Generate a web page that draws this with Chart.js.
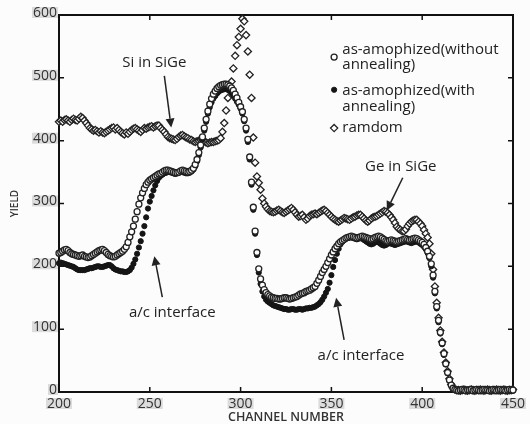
<!DOCTYPE html>
<html lang="en">
<head>
<meta charset="UTF-8">
<title>Yield vs channel number</title>
<script src="https://cdn.jsdelivr.net/npm/chart.js@4.4.1/dist/chart.umd.min.js"></script>
<style>
  html, body { margin: 0; padding: 0; background: #fcfcfc; }
</style>
</head>
<body>
<canvas id="chart" width="530" height="424"></canvas>
<script>
// one value per channel, starting at channel 200
const firstChannel = 200;
const seriesNames = ['as-amophized(without annealing)', 'as-amophized(with annealing)', 'ramdom'];

const withoutAnnealing = [
  221, 222, 224, 226, 227, 225, 222, 220, 219, 218,
  217, 216, 217, 218, 216, 215, 214, 215, 217, 219,
  221, 223, 225, 226, 227, 225, 222, 219, 217, 216,
  215, 216, 218, 220, 222, 224, 227, 231, 238, 247,
  255, 264, 275, 287, 299, 309, 317, 324, 330, 334,
  337, 339, 341, 343, 345, 347, 348, 350, 352, 353,
  353, 352, 351, 350, 349, 349, 350, 352, 353, 352,
  351, 350, 351, 353, 356, 362, 370, 381, 393, 406,
  420, 434, 447, 458, 467, 474, 479, 483, 486, 488,
  489, 490, 490, 489, 487, 484, 480, 474, 468, 461,
  454, 446, 434, 420, 402, 374, 334, 294, 256, 222,
  196, 180, 170, 163, 158, 155, 153, 151, 150, 149,
  149, 148, 148, 149, 150, 150, 149, 148, 149, 150,
  151, 152, 154, 156, 157, 158, 160, 161, 162, 164,
  166, 168, 173, 178, 184, 190, 195, 200, 206, 212,
  218, 223, 228, 232, 236, 239, 241, 243, 245, 246,
  247, 248, 247, 246, 245, 246, 247, 248, 247, 246,
  245, 244, 243, 244, 246, 247, 248, 247, 245, 243,
  241, 240, 241, 242, 241, 240, 239, 240, 241, 242,
  243, 244, 243, 242, 243, 244, 245, 244, 242, 240,
  238, 235, 230, 224, 216, 204, 186, 160, 136, 114,
  95, 78, 61, 45, 31, 19, 11, 6, 4, 3,
  2, 3, 4, 3, 2, 3, 3, 4, 2, 3,
  4, 3, 2, 3, 4, 3, 3, 2, 3, 4,
  3, 2, 3, 4, 3, 3, 2, 3, 4, 3,
  3
];

const withAnnealing = [
  205, 206, 205, 204, 203, 202, 201, 200, 199, 197,
  195, 194, 194, 194, 194, 195, 196, 197, 197, 198,
  199, 200, 200, 199, 199, 200, 201, 202, 202, 200,
  197, 195, 194, 193, 192, 192, 191, 191, 192, 194,
  198, 204, 211, 220, 230, 240, 252, 264, 278, 292,
  303, 312, 321, 329, 336, 341, 344, 346, 348, 349,
  350, 350, 349, 348, 347, 348, 349, 350, 350, 349,
  348, 348, 349, 351, 354, 359, 367, 377, 389, 402,
  416, 430, 443, 453, 461, 467, 471, 475, 478, 480,
  481, 482, 482, 481, 479, 476, 472, 467, 462, 457,
  451, 443, 431, 416, 398, 370, 330, 290, 252, 218,
  190, 172, 160, 152, 147, 144, 142, 140, 138, 137,
  136, 135, 134, 133, 132, 132, 131, 131, 132, 132,
  131, 131, 132, 132, 131, 132, 133, 133, 134, 134,
  135, 136, 138, 140, 143, 147, 152, 158, 164, 174,
  186, 199, 210, 220, 228, 235, 239, 242, 244, 245,
  246, 246, 245, 244, 243, 244, 245, 244, 242, 240,
  238, 236, 235, 236, 238, 239, 238, 236, 234, 233,
  234, 236, 237, 236, 235, 234, 235, 236, 237, 238,
  239, 240, 239, 238, 237, 238, 239, 240, 238, 236,
  234, 231, 227, 221, 213, 200, 182, 157, 133, 111,
  93, 76, 59, 44, 30, 18, 10, 6, 4, 3,
  3, 4, 3, 2, 3, 4, 3, 3, 2, 3,
  3, 2, 3, 4, 3, 2, 3, 3, 4, 3,
  2, 3, 3, 4, 3, 2, 3, 4, 3, 3,
  2
];

const randomYield = [
  430, 432, 430, 433, 434, 432, 430, 433, 435, 433,
  432, 435, 438, 436, 432, 428, 424, 420, 418, 416,
  417, 415, 413, 415, 413, 412, 414, 416, 418, 420,
  421, 418, 420, 417, 414, 412, 410, 413, 411, 414,
  417, 419, 420, 418, 416, 414, 417, 420, 419, 421,
  422, 423, 421, 423, 424, 424, 420, 417, 414, 410,
  406, 404, 403, 402, 401, 403, 406, 408, 409, 407,
  405, 404, 402, 401, 399, 398, 399, 400, 401, 401,
  399, 397, 396, 397, 398, 398, 399, 400, 401, 404,
  414, 428, 448, 468, 482, 494, 515, 535, 552, 565,
  578, 594, 590, 568, 542, 505, 468, 405, 365, 343,
  333, 322, 308, 300, 295, 291, 288, 287, 286, 287,
  289, 290, 288, 286, 285, 287, 289, 291, 293, 290,
  286, 282, 279, 280, 282, 278, 274, 276, 280, 282,
  283, 284, 283, 285, 287, 289, 290, 288, 285, 282,
  279, 276, 274, 272, 271, 273, 275, 277, 276, 275,
  274, 276, 278, 279, 281, 282, 282, 279, 276, 273,
  271, 273, 276, 278, 279, 280, 282, 284, 286, 288,
  287, 285, 282, 278, 274, 269, 263, 260, 258, 256,
  256, 259, 264, 268, 271, 273, 274, 274, 271, 268,
  264, 258, 252, 246, 236, 220, 195, 168, 142, 118,
  98, 80, 63, 47, 33, 21, 12, 6, 4, 3,
  3, 2, 3, 4, 3, 2, 3, 4, 3, 2,
  3, 3, 4, 3, 2, 3, 4, 3, 2, 3,
  3, 4, 3, 2, 3, 4, 3, 2, 3, 3,
  4
];

// text labels with arrows, in data coordinates
const notes = [
  { text: 'Si in SiGe', x: 252.5, y: 524, from: [258, 503], to: [261.8, 421] },
  { text: 'Ge in SiGe', x: 388.2, y: 358, from: [389.3, 341], to: [380.5, 289] },
  { text: 'a/c interface', x: 262.4, y: 126, from: [256.9, 151], to: [252.5, 216] },
  { text: 'a/c interface', x: 366.3, y: 57, from: [357, 83], to: [352.6, 150] }
];

function toPoints(values) {
  return values.map((v, i) => ({ x: firstChannel + i, y: v }));
}

const ink = '#222';
const textFont = '15px "Open Sans"';

const styles = [
  { pointStyle: 'circle', pointRadius: 3, backgroundColor: '#fff', borderColor: ink, pointBorderWidth: 1.3 },
  { pointStyle: 'circle', pointRadius: 2.6, backgroundColor: '#151515', borderColor: '#151515', pointBorderWidth: 1 },
  { pointStyle: 'rectRot', pointRadius: 3.6, backgroundColor: '#fff', borderColor: ink, pointBorderWidth: 1.3 }
];

function marker(ctx, style, x, y) {
  ctx.save();
  ctx.fillStyle = style.backgroundColor;
  ctx.strokeStyle = style.borderColor;
  ctx.lineWidth = style.pointBorderWidth;
  ctx.beginPath();
  if (style.pointStyle === 'rectRot') {
    const r = style.pointRadius;
    ctx.moveTo(x, y - r); ctx.lineTo(x + r, y); ctx.lineTo(x, y + r); ctx.lineTo(x - r, y);
    ctx.closePath();
  } else {
    ctx.arc(x, y, style.pointRadius, 0, Math.PI * 2);
  }
  ctx.fill();
  ctx.stroke();
  ctx.restore();
}

// box, inward ticks on all four sides
const frame = {
  id: 'frame',
  beforeDatasetsDraw(chart) {
    const { ctx, chartArea: a, scales: { x, y } } = chart;
    ctx.save();
    ctx.strokeStyle = '#111';
    ctx.lineWidth = 2;
    ctx.strokeRect(a.left, a.top, a.right - a.left, a.bottom - a.top);
    ctx.lineWidth = 1.5;
    ctx.beginPath();
    x.ticks.forEach(t => {
      const px = x.getPixelForValue(t.value);
      if (px <= a.left + 1 || px >= a.right - 1) return;
      ctx.moveTo(px, a.bottom); ctx.lineTo(px, a.bottom - 5);
      ctx.moveTo(px, a.top); ctx.lineTo(px, a.top + 5);
    });
    y.ticks.forEach(t => {
      const py = y.getPixelForValue(t.value);
      if (py <= a.top + 1 || py >= a.bottom - 1) return;
      ctx.moveTo(a.left, py); ctx.lineTo(a.left + 5, py);
      ctx.moveTo(a.right, py); ctx.lineTo(a.right - 5, py);
    });
    ctx.stroke();
    ctx.restore();
  }
};

const labels = {
  id: 'labels',
  afterDatasetsDraw(chart) {
    const { ctx, scales: { x, y } } = chart;
    ctx.save();
    ctx.font = textFont;
    ctx.fillStyle = ink;
    ctx.textBaseline = 'middle';

    // legend
    const lx = x.getPixelForValue(356);
    const mx = x.getPixelForValue(351.5);
    const rows = [
      { lines: ['as-amophized(without', 'annealing)'], top: 545, mark: 533 },
      { lines: ['as-amophized(with', 'annealing)'], top: 479, mark: 481 },
      { lines: ['ramdom'], top: 420, mark: 420 }
    ];
    rows.forEach((r, i) => {
      marker(ctx, styles[i], mx, y.getPixelForValue(r.mark));
      const y0 = y.getPixelForValue(r.top);
      ctx.textAlign = 'left';
      r.lines.forEach((line, k) => ctx.fillText(line, lx, y0 + k * 15.5));
    });

    // notes and arrows
    notes.forEach(n => {
      ctx.textAlign = 'center';
      ctx.fillText(n.text, x.getPixelForValue(n.x), y.getPixelForValue(n.y));
      const x0 = x.getPixelForValue(n.from[0]), y0 = y.getPixelForValue(n.from[1]);
      const x1 = x.getPixelForValue(n.to[0]), y1 = y.getPixelForValue(n.to[1]);
      const ang = Math.atan2(y1 - y0, x1 - x0);
      const hl = 9, hw = 4.5;
      const bx = x1 - hl * Math.cos(ang), by = y1 - hl * Math.sin(ang);
      ctx.strokeStyle = ink;
      ctx.lineWidth = 1.5;
      ctx.beginPath();
      ctx.moveTo(x0, y0); ctx.lineTo(bx, by);
      ctx.stroke();
      ctx.beginPath();
      ctx.moveTo(x1, y1);
      ctx.lineTo(bx + hw * Math.sin(ang), by - hw * Math.cos(ang));
      ctx.lineTo(bx - hw * Math.sin(ang), by + hw * Math.cos(ang));
      ctx.closePath();
      ctx.fill();
    });
    ctx.restore();
  }
};

const tickFont = { family: 'Open Sans', size: 14, lineHeight: 1 };
const backdrop = { top: -1, bottom: -2, left: 1, right: 1 };

new Chart(document.getElementById('chart'), {
  type: 'scatter',
  data: {
    datasets: [
      Object.assign({ label: seriesNames[0], data: toPoints(withoutAnnealing) }, styles[0]),
      Object.assign({ label: seriesNames[1], data: toPoints(withAnnealing) }, styles[1]),
      Object.assign({ label: seriesNames[2], data: toPoints(randomYield) }, styles[2])
    ].map(d => Object.assign(d, { showLine: false, clip: false }))
  },
  options: {
    responsive: false,
    animation: false,
    layout: { padding: { top: 15, right: 14, left: 0, bottom: 0 } },
    plugins: { legend: { display: false }, tooltip: { enabled: false } },
    scales: {
      x: {
        type: 'linear',
        min: 200,
        max: 450,
        grid: { display: false, drawTicks: false },
        border: { display: false },
        ticks: {
          stepSize: 50, padding: 5, color: '#333', font: tickFont,
          showLabelBackdrop: true, backdropColor: '#dcdcdc', backdropPadding: backdrop
        },
        title: {
          display: true, text: 'CHANNEL NUMBER', color: '#333',
          font: { family: 'Open Sans', size: 12.5, weight: '600', lineHeight: 1 },
          padding: { top: 0, bottom: 0 }
        },
        afterFit(s) { s.height = 32; }
      },
      y: {
        min: 0,
        max: 600,
        grid: { display: false, drawTicks: false },
        border: { display: false },
        ticks: {
          stepSize: 100, padding: 2, labelOffset: -2, color: '#333', font: tickFont,
          showLabelBackdrop: true, backdropColor: '#dcdcdc', backdropPadding: backdrop
        },
        title: {
          display: true, text: 'YIELD', color: '#333',
          font: { family: 'Open Sans', size: 10, weight: '600', lineHeight: 1 },
          padding: { top: 10, bottom: 0 }
        },
        afterFit(s) { s.width = 59; }
      }
    }
  },
  plugins: [frame, labels]
});
</script>
</body>
</html>
